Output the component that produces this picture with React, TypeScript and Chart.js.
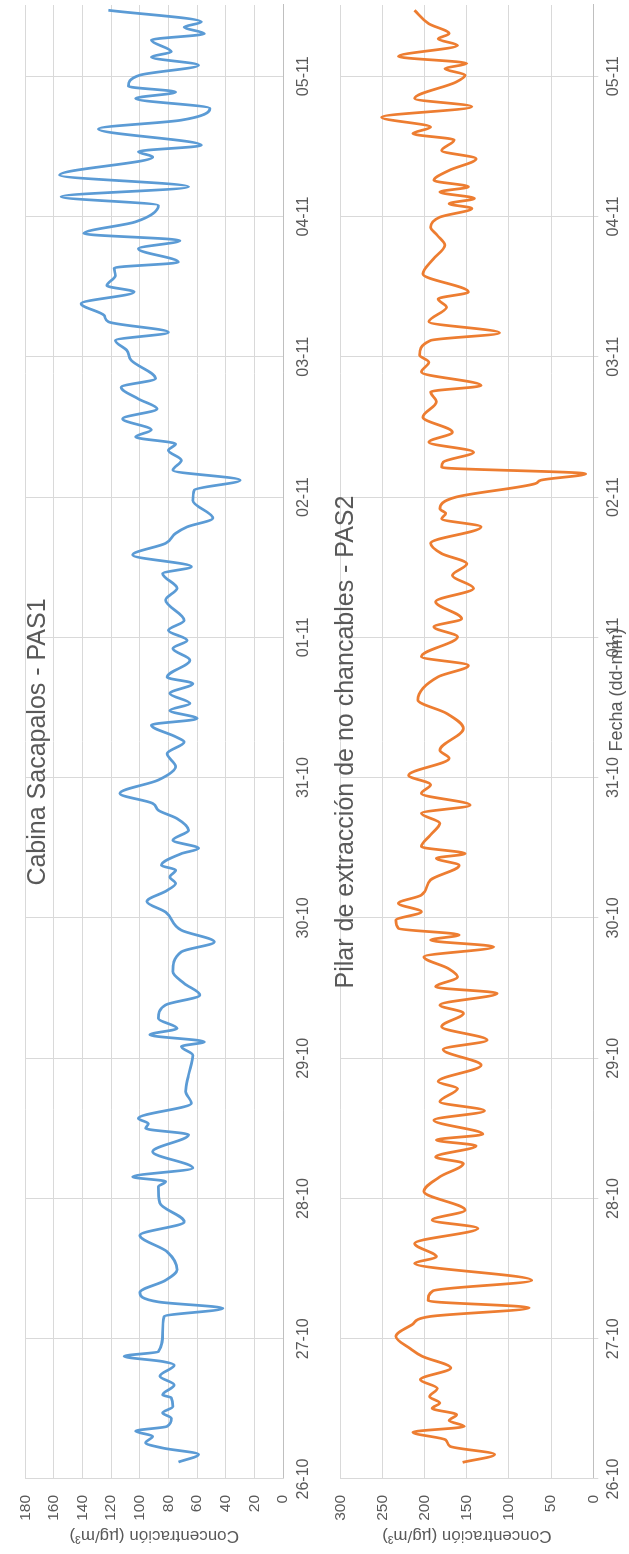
import React, { useEffect, useRef } from "react";
import { Chart, registerables } from "chart.js";

Chart.register(...registerables);

// ---- data ----
const dateLabels = ["26-10", "27-10", "28-10", "29-10", "30-10", "31-10", "01-11", "02-11", "03-11", "04-11", "05-11"];

const pas1Title = "Cabina Sacapalos - PAS1";
const pas2Title = "Pilar de extracción de no chancables - PAS2";
const yTitle = "Concentración (µg/m³)";
const xTitle = "Fecha (dd-mm)";

// hours since 26-10 00:00
const pas1Hours = [
  2.9, 4.2, 5.3, 6.2, 7.3, 8.2, 9.0, 10.4, 11.3, 12.4, 13.9, 14.4, 16.1, 17.6, 19.5, 20.1, 21.0, 21.8, 25.0, 27.8,
  29.2, 30.3, 31.9, 34.0, 35.8, 38.9, 41.7, 44.0, 47.2, 50.0, 50.9, 51.7, 53.2, 56.0, 58.9, 60.0, 60.8, 61.7, 64.3, 66.3,
  69.1, 72.5, 74.0, 74.8, 76.0, 77.1, 78.8, 81.1, 82.8, 84.8, 86.8, 90.2, 91.9, 93.9, 97.0, 98.8, 100.7, 101.9, 103.0, 104.2,
  105.0, 107.0, 107.9, 109.3, 111.0, 113.0, 114.4, 115.6, 117.3, 119.6, 121.9, 124.1, 126.1, 127.0, 129.0, 130.1, 131.5, 132.7, 134.4, 136.1,
  137.2, 140.1, 142.1, 143.5, 145.2, 146.9, 150.4, 152.4, 154.9, 156.1, 158.1, 160.1, 161.8, 162.9, 164.4, 167.4, 169.2, 170.9, 172.6, 174.3,
  176.0, 177.1, 178.3, 179.5, 181.4, 183.1, 184.8, 186.8, 188.3, 191.4, 193.1, 194.8, 196.2, 198.0, 199.1, 201.1, 203.1, 204.2, 205.9, 207.2,
  208.2, 210.5, 211.9, 213.1, 215.1, 217.9, 219.4, 221.1, 223.1, 226.2, 227.1, 228.2, 231.0, 232.5, 234.5, 236.2, 237.3, 238.3, 240.2, 241.9,
  243.3, 244.2, 246.2, 247.3, 248.4, 249.3, 251.3,
];
const pas1Values = [
  73, 59, 84, 96, 91, 103, 81, 78, 84, 77, 78, 84, 76, 86, 76, 84, 111, 87, 84, 83,
  42, 87, 100, 82, 74, 81, 100, 69, 86, 87, 82, 105, 63, 91, 66, 96, 94, 101, 64, 68,
  66, 63, 71, 55, 93, 74, 87, 82, 58, 69, 77, 71, 48, 71, 82, 95, 81, 75, 79, 75,
  85, 71, 59, 77, 66, 74, 87, 91, 114, 87, 75, 81, 69, 75, 92, 60, 79, 65, 79, 63,
  81, 65, 77, 67, 80, 69, 82, 74, 84, 64, 105, 82, 75, 67, 49, 63, 62, 30, 77, 71,
  80, 75, 103, 92, 112, 88, 101, 113, 89, 106, 109, 117, 80, 122, 125, 141, 104, 123, 117, 118,
  73, 101, 72, 139, 103, 87, 155, 66, 156, 91, 101, 57, 129, 71, 51, 103, 75, 108, 100, 59,
  92, 78, 92, 55, 69, 57, 122,
];

const pas2Hours = [
  2.85, 4.2, 5.6, 6.7, 8.0, 9.0, 10.0, 11.0, 12.1, 13.0, 14.1, 15.5, 17.0, 19.0, 21.0, 22.2, 24.4, 26.4, 27.8, 29.3,
  30.5, 32.2, 34.0, 36.9, 38.0, 40.3, 42.9, 44.3, 46.0, 49.2, 51.7, 54.0, 55.1, 57.0, 58.0, 59.0, 61.4, 63.0, 64.55, 66.8,
  68.0, 70.8, 73.5, 75.1, 77.4, 79.7, 81.1, 83.1, 84.2, 85.9, 87.35, 89.35, 91.05, 92.2, 93.1, 94.2, 95.6, 97.05, 98.5, 99.9,
  102.5, 105.0, 106.2, 107.0, 108.2, 110.2, 112.2, 113.9, 115.3, 117.3, 118.8, 120.4, 123.3, 124.7, 128.4, 131.0, 133.3, 137.25, 139.2, 140.7,
  144.1, 145.8, 147.2, 150.1, 152.4, 154.6, 156.6, 158.35, 160.1, 162.9, 164.3, 165.2, 166.0, 168.0, 170.3, 170.9, 172.0, 173.1, 174.0, 175.7,
  177.4, 179.1, 181.7, 184.3, 186.0, 187.1, 189.4, 191.1, 192.3, 194.8, 196.1, 198.0, 200.5, 201.9, 203.1, 206.2, 208.7, 211.1, 212.8, 214.2,
  215.9, 217.4, 218.2, 219.1, 220.2, 221.1, 222.2, 223.9, 225.9, 227.3, 229.1, 230.2, 231.3, 233.0, 234.8, 236.2, 239.0, 240.2, 241.3, 242.2,
  243.4, 245.3, 246.4, 247.3, 249.0, 251.3,
];
const pas2Values = [
  155, 117, 170, 175, 214, 153, 171, 162, 191, 182, 194, 185, 205, 169, 203, 216, 234, 215, 194, 76,
  196, 190, 73, 212, 186, 212, 137, 191, 152, 201, 182, 154, 187, 139, 186, 131, 189, 129, 182, 161,
  184, 133, 178, 126, 180, 154, 182, 114, 187, 161, 172, 201, 118, 193, 159, 231, 234, 204, 231, 204,
  193, 159, 186, 152, 204, 193, 182, 204, 146, 204, 193, 219, 171, 182, 154, 174, 208, 184, 148, 204,
  161, 189, 156, 187, 142, 167, 150, 180, 193, 133, 180, 175, 182, 163, 69, 62, 9, 180, 178, 142,
  195, 167, 202, 186, 193, 133, 204, 195, 206, 193, 111, 195, 174, 184, 148, 202, 190, 176, 185, 193,
  182, 144, 171, 141, 182, 148, 189, 171, 139, 180, 165, 214, 193, 251, 144, 212, 163, 152, 176, 150,
  231, 161, 184, 171, 195, 212,
];

const pas1Axis = { max: 180, step: 20 };
const pas2Axis = { max: 300, step: 50 };
const hoursMax = 252.2;

// ---- styles ----
const FONT = "'Liberation Sans', Arial, sans-serif";
const TEXT = "#595959";
const GRID = "#d9d9d9";

type PanelProps = {
  height: number;
  hours: number[];
  values: number[];
  color: string;
  axis: { max: number; step: number };
  title: string;
  titleBaseline: number;
  padTop: number;
  xAxisHeight: number;
  drawTicks: boolean;
  tickPad: number;
  showXTitle: boolean;
};

function Panel(p: PanelProps) {
  const ref = useRef<HTMLCanvasElement | null>(null);
  useEffect(() => {
    if (!ref.current) return;
    const overlay = {
      id: "overlayText",
      afterDraw(chart: any) {
        const { ctx, chartArea } = chart;
        ctx.save();
        ctx.fillStyle = TEXT;
        ctx.textAlign = "center";
        ctx.textBaseline = "alphabetic";
        ctx.font = `25px ${FONT}`;
        ctx.fillText(p.title, (chartArea.left + chartArea.right) / 2, p.titleBaseline);
        if (p.showXTitle) {
          ctx.font = `18px ${FONT}`;
          ctx.textBaseline = "middle";
          ctx.fillText(xTitle, 864, 302);
        }
        ctx.restore();
      },
    };
    const chart = new Chart(ref.current, {
      type: "line",
      data: {
        datasets: [
          {
            data: p.hours.map((h, i) => ({ x: h, y: p.values[i] })),
            borderColor: p.color,
            borderWidth: 2.75,
            pointRadius: 0,
            cubicInterpolationMode: "monotone",
            fill: false,
          },
        ],
      },
      options: {
        responsive: false,
        animation: false,
        devicePixelRatio: 1,
        layout: { padding: { top: p.padTop, right: 5, left: 0, bottom: 0 } },
        plugins: { legend: { display: false }, tooltip: { enabled: false }, title: { display: false } },
        scales: {
          x: {
            type: "linear",
            min: 0,
            max: hoursMax,
            afterFit: (s: any) => {
              s.height = p.xAxisHeight;
            },
            grid: { color: GRID, lineWidth: 1, drawTicks: p.drawTicks, tickLength: 5 },
            border: { color: "#bfbfbf", width: 1 },
            ticks: {
              stepSize: 24,
              includeBounds: false,
              autoSkip: false,
              maxRotation: 0,
              minRotation: 0,
              maxTicksLimit: 30,
              padding: p.tickPad,
              color: TEXT,
              font: { family: FONT, size: 16 },
              callback: (v: any) => dateLabels[Math.round(Number(v) / 24)] ?? "",
            },
          },
          y: {
            min: 0,
            max: p.axis.max,
            afterFit: (s: any) => {
              s.width = 75;
            },
            grid: { color: GRID, lineWidth: 1, drawTicks: false },
            border: { color: GRID, width: 1 },
            ticks: {
              stepSize: p.axis.step,
              padding: 16,
              color: TEXT,
              font: { family: FONT, size: 15.5 },
            },
            title: {
              display: true,
              text: yTitle,
              color: TEXT,
              font: { family: FONT, size: 17 },
              padding: { top: 8, bottom: 0 },
            },
          },
        },
      },
      plugins: [overlay],
    } as any);
    return () => chart.destroy();
  }, []);
  return <canvas ref={ref} width={1554} height={p.height} style={{ display: "block" }} />;
}

export default function App() {
  return (
    <div
      style={{
        position: "fixed",
        left: 0,
        top: 0,
        width: 629,
        height: 1554,
        overflow: "hidden",
        background: "#ffffff",
      }}
    >
      <div
        style={{
          position: "absolute",
          left: 0,
          top: 0,
          width: 1554,
          height: 629,
          transformOrigin: "0 0",
          transform: "translateY(1554px) rotate(-90deg)",
        }}
      >
        <Panel
          height={315}
          hours={pas1Hours}
          values={pas1Values}
          color="#5B9BD5"
          axis={pas1Axis}
          title={pas1Title}
          titleBaseline={45}
          padTop={20}
          xAxisHeight={32}
          drawTicks={false}
          tickPad={10.5}
          showXTitle={false}
        />
        <Panel
          height={314}
          hours={pas2Hours}
          values={pas2Values}
          color="#ED7D31"
          axis={pas2Axis}
          title={pas2Title}
          titleBaseline={38}
          padTop={11.7}
          xAxisHeight={35.7}
          drawTicks={true}
          tickPad={5.5}
          showXTitle={true}
        />
      </div>
    </div>
  );
}
